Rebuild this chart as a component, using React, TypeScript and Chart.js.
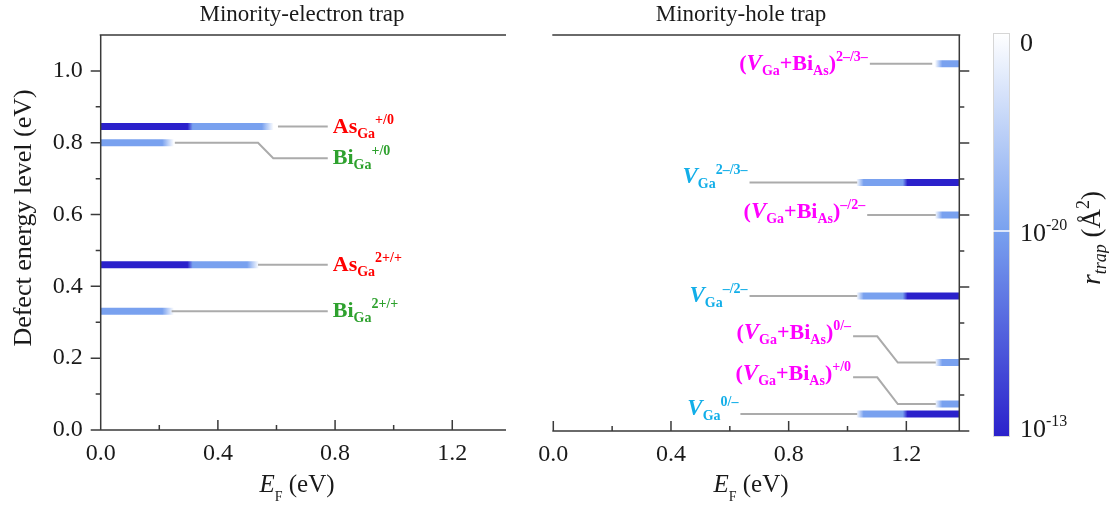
import React, { useEffect, useRef } from "react";
import { Chart, registerables } from "chart.js";
Chart.register(...registerables);

type Run = { t: string; s: "n" | "i" | "sub" | "sup" };

// ---------- axes / ticks ----------
const X_MAX = 1.38;
const Y_MAX = 1.1;
const xTicks = [0, 0.4, 0.8, 1.2];
const xMinorTicks = [0.2, 0.6, 1.0];
const yTicks = [0, 0.2, 0.4, 0.6, 0.8, 1.0];
const yMinorTicks = [0.1, 0.3, 0.5, 0.7, 0.9];
const panelTitles = ["Minority-electron trap", "Minority-hole trap"];
const yTitle = "Defect energy level (eV)";
const colorbarLabels: [string, string][] = [["0", ""], ["10", "-20"], ["10", "-13"]];

// ---------- left panel: minority-electron traps ----------
const leftKind = ["As", "Bi", "As", "Bi"];
const leftLabels: Run[][] = [
  [{ t: "As", s: "n" }, { t: "Ga", s: "sub" }, { t: "+/0", s: "sup" }],
  [{ t: "Bi", s: "n" }, { t: "Ga", s: "sub" }, { t: "+/0", s: "sup" }],
  [{ t: "As", s: "n" }, { t: "Ga", s: "sub" }, { t: "2+/+", s: "sup" }],
  [{ t: "Bi", s: "n" }, { t: "Ga", s: "sub" }, { t: "2+/+", s: "sup" }],
];
const leftEnergy = [0.845, 0.8, 0.46, 0.331];
const leftDarkEnd = [0.3, 0, 0.3, 0];
const leftLightEnd = [0.55, 0.21, 0.5, 0.21];
const leftLinkX = [
  [0.605, 0.775],
  [0.253, 0.537, 0.589, 0.775],
  [0.537, 0.775],
  [0.242, 0.775],
];
const leftLinkY = [
  [0.845, 0.845],
  [0.8, 0.8, 0.757, 0.757],
  [0.46, 0.46],
  [0.331, 0.331],
];

// ---------- right panel: minority-hole traps ----------
const cx = (sup: string): Run[] => [
  { t: "(", s: "n" }, { t: "V", s: "i" }, { t: "Ga", s: "sub" }, { t: "+Bi", s: "n" },
  { t: "As", s: "sub" }, { t: ")", s: "n" }, { t: sup, s: "sup" },
];
const vac = (sup: string): Run[] => [{ t: "V", s: "i" }, { t: "Ga", s: "sub" }, { t: sup, s: "sup" }];
const rightKind = ["cx", "v", "cx", "v", "cx", "cx", "v"];
const rightLabels: Run[][] = [
  cx("2\u2013/3\u2013"),
  vac("2\u2013/3\u2013"),
  cx("\u2013/2\u2013"),
  vac("\u2013/2\u2013"),
  cx("0/\u2013"),
  cx("+/0"),
  vac("0/\u2013"),
];
const rightEnergy = [1.02, 0.69, 0.6, 0.375, 0.19, 0.075, 0.047];
const rightLightStart = [1.322, 1.055, 1.322, 1.055, 1.322, 1.322, 1.055];
const rightDarkStart = [X_MAX, 1.2, X_MAX, 1.2, X_MAX, X_MAX, 1.2];
const rightLabelY = [1.02, 0.706, 0.607, 0.376, 0.272, 0.158, 0.061];
const rightLinkX = [
  [1.076, 1.288],
  [0.667, 1.033],
  [1.067, 1.3],
  [0.667, 1.033],
  [1.019, 1.101, 1.171, 1.3],
  [1.019, 1.101, 1.171, 1.3],
  [0.636, 1.033],
];
const rightLinkY = [
  [1.02, 1.02],
  [0.69, 0.69],
  [0.6, 0.6],
  [0.375, 0.375],
  [0.263, 0.263, 0.19, 0.19],
  [0.149, 0.149, 0.075, 0.075],
  [0.047, 0.047],
];

// ---------- styles ----------
const FAMILY = '"Liberation Serif", "Times New Roman", serif';
const LIGHT = [121, 161, 239];
const DARK = [43, 33, 203];
const rgba = (c: number[], a = 1) => `rgba(${c[0]},${c[1]},${c[2]},${a})`;
const AXIS = "#3a3a3a";
const LINK = "#ababab";
const KIND_COLOR: Record<string, string> = { As: "#ff0000", Bi: "#2ea12e", cx: "#ff00ff", v: "#12aee8" };
const LABEL_STYLE = { weight: "bold", main: 22, ital: 23, small: 14, subDy: 5, supDy: -9 };
const OX = 470; // left offset of right canvas

type Sty = { weight: string; main: number; ital: number; small: number; subDy: number; supDy: number; subItal?: boolean };

function drawRuns(ctx: CanvasRenderingContext2D, runs: Run[], x: number, y: number, align: string, color: string, st: Sty) {
  const fontFor = (s: string) => {
    if (s === "n") return `${st.weight} ${st.main}px ${FAMILY}`;
    if (s === "i") return `italic ${st.weight} ${st.ital}px ${FAMILY}`;
    return `${st.subItal && s === "sub" ? "italic " : ""}${st.weight} ${st.small}px ${FAMILY}`;
  };
  ctx.save();
  ctx.textBaseline = "alphabetic";
  ctx.textAlign = "left";
  ctx.fillStyle = color;
  const widths = runs.map((r) => {
    ctx.font = fontFor(r.s);
    return ctx.measureText(r.t).width;
  });
  const total = widths.reduce((a, b) => a + b, 0);
  let px = align === "right" ? x - total : align === "center" ? x - total / 2 : x;
  runs.forEach((r, i) => {
    ctx.font = fontFor(r.s);
    const dy = r.s === "sub" ? st.subDy : r.s === "sup" ? st.supDy : 0;
    ctx.fillText(r.t, px, y + dy);
    px += widths[i];
  });
  ctx.restore();
}

function gradientFor(stops: [number, string][]) {
  return (context: any) => {
    const chart = context.chart;
    const xs = chart.scales && chart.scales.x;
    if (!chart.chartArea || !xs) return stops[0][1];
    const p0 = xs.getPixelForValue(stops[0][0]);
    const p1 = xs.getPixelForValue(stops[stops.length - 1][0]);
    const g = chart.ctx.createLinearGradient(p0, 0, p1, 0);
    stops.forEach(([v, c]) => {
      const f = (xs.getPixelForValue(v) - p0) / (p1 - p0);
      g.addColorStop(Math.min(1, Math.max(0, f)), c);
    });
    return g;
  };
}

const BAR_W = 7;
const FADE_L = 0.04;
const FADE_R = 0.025;

function leftDatasets() {
  const bars = leftEnergy.map((e, i) => {
    const d = leftDarkEnd[i];
    const l = leftLightEnd[i];
    const stops: [number, string][] = [];
    if (d > 0) stops.push([0, rgba(DARK)], [d - 0.004, rgba(DARK)], [d + 0.014, rgba(LIGHT)]);
    else stops.push([0, rgba(LIGHT)]);
    stops.push([l, rgba(LIGHT)], [l + FADE_L, rgba(LIGHT, 0)]);
    return {
      data: [{ x: 0, y: e }, { x: l + FADE_L, y: e }],
      borderColor: gradientFor(stops),
      borderWidth: BAR_W,
      borderCapStyle: "butt",
      pointRadius: 0,
    };
  });
  const links = leftLinkX.map((xs, i) => ({
    data: xs.map((x, j) => ({ x, y: leftLinkY[i][j] })),
    borderColor: LINK,
    borderWidth: 2,
    pointRadius: 0,
  }));
  return [...links, ...bars];
}

function rightDatasets() {
  const bars = rightEnergy.map((e, i) => {
    const ls = rightLightStart[i];
    const ds = rightDarkStart[i];
    const stops: [number, string][] = [[ls - FADE_R, rgba(LIGHT, 0)], [ls, rgba(LIGHT)]];
    if (ds < X_MAX) stops.push([ds - 0.012, rgba(LIGHT)], [ds + 0.004, rgba(DARK)], [X_MAX, rgba(DARK)]);
    else stops.push([X_MAX, rgba(LIGHT)]);
    return {
      data: [{ x: ls - FADE_R, y: e }, { x: X_MAX, y: e }],
      borderColor: gradientFor(stops),
      borderWidth: BAR_W,
      borderCapStyle: "butt",
      pointRadius: 0,
    };
  });
  const links = rightLinkX.map((xs, i) => ({
    data: xs.map((x, j) => ({ x, y: rightLinkY[i][j] })),
    borderColor: LINK,
    borderWidth: 2,
    pointRadius: 0,
  }));
  return [...links, ...bars];
}

function scales(side: "left" | "right", yWidth: number, xHeight: number) {
  return {
    x: {
      type: "linear",
      min: 0,
      max: X_MAX,
      position: "bottom",
      grid: { display: false, drawTicks: false },
      border: { display: false },
      afterBuildTicks: (s: any) => { s.ticks = xTicks.map((v) => ({ value: v })); },
      afterFit: (s: any) => { s.height = xHeight; },
      ticks: {
        padding: 9,
        autoSkip: false,
        maxRotation: 0,
        color: "#1a1a1a",
        font: { family: FAMILY, size: 24 },
        callback: (v: any) => Number(v).toFixed(1),
      },
    },
    y: {
      type: "linear",
      min: 0,
      max: Y_MAX,
      position: side,
      grid: { display: false, drawTicks: false },
      border: { display: false },
      afterBuildTicks: (s: any) => { s.ticks = yTicks.map((v) => ({ value: v })); },
      afterFit: (s: any) => { s.width = yWidth; },
      ticks: {
        display: side === "left",
        padding: 18,
        color: "#1a1a1a",
        font: { family: FAMILY, size: 24 },
        callback: (v: any) => Number(v).toFixed(1),
      },
    },
  };
}

function framePlugin(side: "left" | "right") {
  return {
    id: "frame-" + side,
    afterDraw(chart: any) {
      const { ctx, chartArea: a } = chart;
      const x = chart.scales.x;
      const y = chart.scales.y;
      ctx.save();
      ctx.strokeStyle = AXIS;
      ctx.lineWidth = 1.5;
      ctx.beginPath();
      ctx.moveTo(a.left - 1, a.top);
      ctx.lineTo(a.right + 1, a.top);
      ctx.moveTo(a.left - 1, a.bottom);
      ctx.lineTo(a.right + 1, a.bottom);
      const sx = side === "left" ? a.left : a.right;
      ctx.moveTo(sx, a.top);
      ctx.lineTo(sx, a.bottom);
      xTicks.forEach((v) => {
        const p = x.getPixelForValue(v);
        ctx.moveTo(p, a.bottom);
        ctx.lineTo(p, a.bottom - 10);
      });
      xMinorTicks.forEach((v) => {
        const p = x.getPixelForValue(v);
        ctx.moveTo(p, a.bottom);
        ctx.lineTo(p, a.bottom - 5);
      });
      const dir = side === "left" ? -1 : 1;
      yTicks.forEach((v) => {
        const p = y.getPixelForValue(v);
        ctx.moveTo(sx, p);
        ctx.lineTo(sx + dir * 10, p);
      });
      yMinorTicks.forEach((v) => {
        const p = y.getPixelForValue(v);
        ctx.moveTo(sx, p);
        ctx.lineTo(sx + dir * 5, p);
      });
      ctx.stroke();
      ctx.restore();
    },
  };
}

const TITLE_STYLE: Sty = { weight: "normal", main: 25, ital: 25, small: 14, subDy: 9, supDy: -9 };

function drawXTitle(ctx: CanvasRenderingContext2D, cxp: number) {
  drawRuns(ctx, [{ t: "E", s: "i" }, { t: "F", s: "sub" }, { t: " (eV)", s: "n" }], cxp, 492, "center", "#1a1a1a", TITLE_STYLE);
}

function drawPanelTitle(ctx: CanvasRenderingContext2D, text: string, cxp: number) {
  ctx.save();
  ctx.font = `23px ${FAMILY}`;
  ctx.fillStyle = "#1a1a1a";
  ctx.textAlign = "center";
  ctx.textBaseline = "alphabetic";
  ctx.fillText(text, cxp, 21);
  ctx.restore();
}

const leftTextPlugin = {
  id: "left-text",
  afterDraw(chart: any) {
    const { ctx } = chart;
    const x = chart.scales.x;
    const y = chart.scales.y;
    leftLabels.forEach((runs, i) => {
      const xs = leftLinkX[i];
      const ys = leftLinkY[i];
      const px = x.getPixelForValue(xs[xs.length - 1]) + 5;
      const py = y.getPixelForValue(ys[ys.length - 1]);
      drawRuns(ctx, runs, px, py + 6, "left", KIND_COLOR[leftKind[i]], LABEL_STYLE);
    });
    drawPanelTitle(ctx, panelTitles[0], 302);
    drawXTitle(ctx, 297);
    ctx.save();
    ctx.translate(24, 218);
    ctx.rotate(-Math.PI / 2);
    ctx.font = `26px ${FAMILY}`;
    ctx.fillStyle = "#1a1a1a";
    ctx.textAlign = "center";
    ctx.textBaseline = "middle";
    ctx.fillText(yTitle, 0, 0);
    ctx.restore();
  },
};

const rightTextPlugin = {
  id: "right-text",
  afterDraw(chart: any) {
    const { ctx } = chart;
    const x = chart.scales.x;
    const y = chart.scales.y;
    rightLabels.forEach((runs, i) => {
      const px = x.getPixelForValue(rightLinkX[i][0]) - 2;
      const py = y.getPixelForValue(rightLabelY[i]);
      drawRuns(ctx, runs, px, py + 6, "right", KIND_COLOR[rightKind[i]], LABEL_STYLE);
    });
    drawPanelTitle(ctx, panelTitles[1], 741 - OX);
    drawXTitle(ctx, 751 - OX);

    // colour bar
    const L = 993 - OX, R = 1010 - OX, T = 33, B = 437, M = 231;
    const g1 = ctx.createLinearGradient(0, T, 0, M);
    g1.addColorStop(0, "#ffffff");
    g1.addColorStop(1, rgba(LIGHT));
    ctx.fillStyle = g1;
    ctx.fillRect(L, T, R - L, M - T);
    const g2 = ctx.createLinearGradient(0, M, 0, B);
    g2.addColorStop(0, rgba(LIGHT));
    g2.addColorStop(1, rgba(DARK));
    ctx.fillStyle = g2;
    ctx.fillRect(L, M, R - L, B - M);
    ctx.save();
    ctx.strokeStyle = "#d6d6d6";
    ctx.lineWidth = 1;
    ctx.strokeRect(L + 0.5, T + 0.5, R - L - 1, B - T - 1);
    ctx.strokeStyle = "#ffffff";
    ctx.lineWidth = 1.5;
    ctx.beginPath();
    ctx.moveTo(L, M);
    ctx.lineTo(R, M);
    ctx.stroke();
    ctx.restore();
    const cbStyle: Sty = { weight: "normal", main: 26, ital: 26, small: 16, subDy: 6, supDy: -11 };
    const cbY = [42, 232, 428];
    colorbarLabels.forEach(([base, sup], i) => {
      const runs: Run[] = [{ t: base, s: "n" }];
      if (sup) runs.push({ t: sup, s: "sup" });
      drawRuns(ctx, runs, 1020 - OX, cbY[i] + 9, "left", "#1a1a1a", cbStyle);
    });
    ctx.save();
    ctx.translate(1092 - OX, 238);
    ctx.rotate(-Math.PI / 2);
    drawRuns(
      ctx,
      [{ t: "r", s: "i" }, { t: "trap", s: "sub" }, { t: " (\u00c5", s: "n" }, { t: "2", s: "sup" }, { t: ")", s: "n" }],
      0,
      8,
      "center",
      "#1a1a1a",
      { weight: "normal", main: 27, ital: 27, small: 18, subDy: 6, supDy: -11, subItal: true }
    );
    ctx.restore();
  },
};

export default function App() {
  const leftRef = useRef<HTMLCanvasElement>(null);
  const rightRef = useRef<HTMLCanvasElement>(null);
  useEffect(() => {
    const c1 = new Chart(leftRef.current as HTMLCanvasElement, {
      type: "line",
      data: { datasets: leftDatasets() as any },
      options: {
        animation: false,
        responsive: false,
        devicePixelRatio: 1,
        layout: { padding: { top: 35, right: 15, left: 0, bottom: 0 } },
        plugins: { legend: { display: false }, tooltip: { enabled: false } },
        scales: scales("left", 100.7, 80) as any,
      },
      plugins: [framePlugin("left"), leftTextPlugin],
    } as any);
    const c2 = new Chart(rightRef.current as HTMLCanvasElement, {
      type: "line",
      data: { datasets: rightDatasets() as any },
      options: {
        animation: false,
        responsive: false,
        devicePixelRatio: 1,
        layout: { padding: { top: 35, right: 0, left: 553.3 - OX, bottom: 0 } },
        plugins: { legend: { display: false }, tooltip: { enabled: false } },
        scales: scales("right", 639 - (959.3 - OX), 79) as any,
      },
      plugins: [framePlugin("right"), rightTextPlugin],
    } as any);
    return () => {
      c1.destroy();
      c2.destroy();
    };
  }, []);
  return (
    <div style={{ position: "absolute", left: 0, top: 0, width: 1109, height: 510, background: "#ffffff", overflow: "hidden" }}>
      <canvas ref={leftRef} width={520} height={510} style={{ position: "absolute", left: 0, top: 0, width: 520, height: 510 }} />
      <canvas ref={rightRef} width={639} height={510} style={{ position: "absolute", left: OX, top: 0, width: 639, height: 510 }} />
    </div>
  );
}
